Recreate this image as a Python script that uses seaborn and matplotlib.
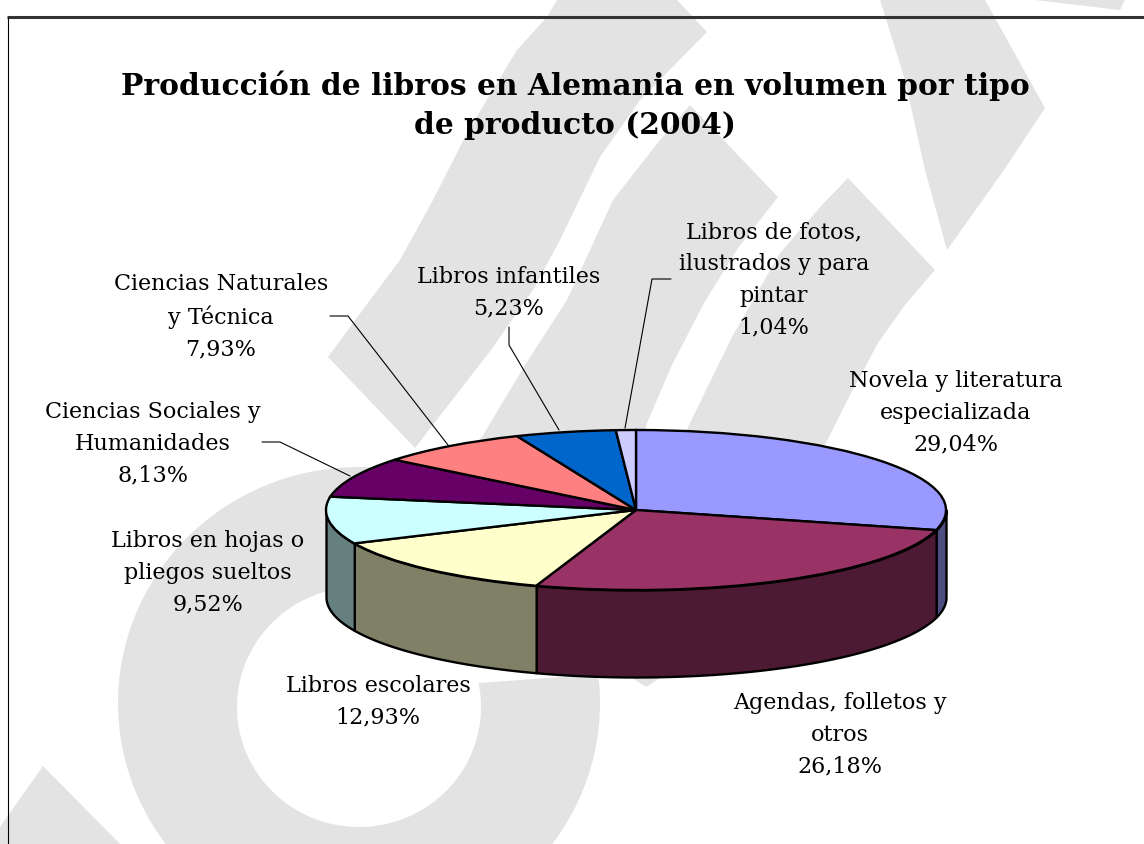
import numpy as np
import matplotlib
matplotlib.use('Agg')
import matplotlib.pyplot as plt
from matplotlib.transforms import Affine2D
import seaborn as sns

sns.set_theme(style='white')
plt.rcParams['font.family'] = ['DejaVu Serif']

titulo = 'Producción de libros en Alemania en volumen por tipo\nde producto (2004)'
categorias = ['Novela y literatura\nespecializada', 'Agendas, folletos y\notros', 'Libros escolares',
              'Libros en hojas o\npliegos sueltos', 'Ciencias Sociales y\nHumanidades',
              'Ciencias Naturales\ny Técnica', 'Libros infantiles',
              'Libros de fotos,\nilustrados y para\npintar']
valores = [29.04, 26.18, 12.93, 9.52, 8.13, 7.93, 5.23, 1.04]
colores = ['#9999ff', '#993366', '#ffffcc', '#ccffff', '#660066', '#ff8080', '#0066cc', '#ccccff']
pos_etiquetas = [(956, 413), (840, 735), (378, 702), (208, 573), (153, 444), (221, 317), (509, 293), (774, 280)]

# lineas guia de las etiquetas
guias = [[(262, 442), (280, 442), (350, 476)],
         [(330, 316), (348, 316), (448, 445)],
         [(509, 327), (509, 345), (559, 430)],
         [(671, 279), (652, 279), (625, 428)]]

# marca de agua del fondo
fondo = [[(557, 0), (677, 0), (707, 32), (640, 100), (600, 157), (560, 240), (533, 290), (491, 350), (415, 448),
          (328, 357), (370, 300), (400, 260), (433, 200), (467, 133), (517, 50), (547, 17)],
         [(690, 105), (778, 197), (738, 248), (704, 303), (672, 365), (647, 423), (640, 450), (470, 450), (482, 437),
          (525, 365), (567, 300), (613, 200), (660, 140)],
         [(848, 178), (935, 270), (905, 305), (878, 343), (850, 395), (826, 443), (800, 470), (680, 470), (688, 427),
          (732, 337), (780, 253), (822, 205)],
         [(880, 0), (985, 0), (1045, 108), (1004, 170), (947, 250), (925, 170), (905, 80)],
         [(1035, 0), (1125, 0), (1120, 10)],
         [(43, 766), (120, 844), (0, 844), (0, 827)],
         [(620, 670), (672, 670), (646, 687)]]

cx, cy, rx, ry, alto = 636, 510, 310, 80, 87

fig, ax = plt.subplots(figsize=(11.44, 8.44), dpi=100)
fig.subplots_adjust(left=0, right=1, bottom=0, top=1)
paleta = sns.color_palette(colores)
laterales = np.array(paleta) * 0.5

for poly in fondo:
    xs, ys = zip(*poly)
    ax.fill(xs, ys, color='#e3e3e3', lw=0, zorder=0)

# anillo del fondo
t1 = np.radians(np.linspace(7, -300, 200))
t2 = np.radians(np.linspace(-300, 11.5, 200))
ax.fill(np.r_[359 + 241 * np.cos(t1), 359 + 122 * np.cos(t2)],
        np.r_[703 - 236 * np.sin(t1), 707 - 120 * np.sin(t2)], color='#e3e3e3', lw=0, zorder=0)

# caras laterales
limites = 90 - 3.6 * np.r_[0, np.cumsum(valores)]
for i in range(len(valores)):
    ini, fin = min(limites[i], 0), max(limites[i + 1], -180)
    if ini <= fin:
        continue
    th = np.radians(np.linspace(ini, fin, 80))
    x = cx + rx * np.cos(th)
    arriba = cy - ry * np.sin(th)
    ax.fill_between(x, arriba, arriba + alto, facecolor=laterales[i], edgecolor='black', lw=1.7, zorder=2)

# cara superior
wedges, _ = ax.pie(valores, startangle=90, counterclock=False, colors=paleta, frame=True,
                   wedgeprops=dict(edgecolor='black', linewidth=1.7))
for w in wedges:
    w.set_transform(Affine2D().scale(rx, -ry).translate(cx, cy) + ax.transData)
    w.set_zorder(3)

for g in guias:
    xs, ys = zip(*g)
    ax.plot(xs, ys, color='black', lw=0.8, zorder=4)

for cat, val, (x, y) in zip(categorias, valores, pos_etiquetas):
    ax.text(x, y, cat + '\n' + f'{val:.2f}'.replace('.', ',') + '%', ha='center', va='center',
            fontsize=16, linespacing=1.57, color='black', zorder=5)

ax.text(575, 105, titulo, ha='center', va='center', fontsize=21.4, fontweight='bold', linespacing=1.42,
        color='black', zorder=5)

ax.plot([7, 1144], [17, 17], color='#333333', lw=2.2, zorder=5, solid_capstyle='butt')
ax.plot([8, 8], [17, 844], color='black', lw=0.8, zorder=5, solid_capstyle='butt')

ax.set_xlim(0, 1144)
ax.set_ylim(844, 0)
ax.set_axis_off()
sns.despine(ax=ax, left=True, bottom=True)

fig.savefig('out.png', dpi=100, facecolor='white')
